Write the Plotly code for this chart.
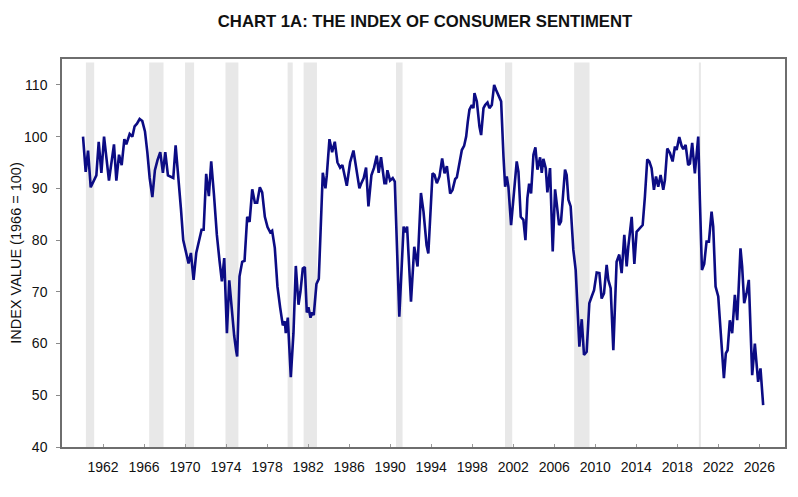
import plotly.graph_objects as go

# ---- data ----
years = [
    1960.05, 1960.31, 1960.54, 1960.80, 1961.35, 1961.58, 1961.84, 1962.10, 1962.58, 1963.07,
    1963.30, 1963.56, 1963.82, 1964.08, 1964.27, 1964.60, 1964.86, 1965.08, 1965.31, 1965.57,
    1965.83, 1966.09, 1966.32, 1966.55, 1966.81, 1967.06, 1967.32, 1967.58, 1967.84, 1968.07,
    1968.33, 1968.59, 1968.85, 1969.08, 1969.37, 1969.60, 1969.82, 1970.12, 1970.34, 1970.57,
    1970.83, 1971.09, 1971.35, 1971.61, 1971.81, 1972.06, 1972.32, 1972.55, 1972.81, 1973.10,
    1973.36, 1973.59, 1973.82, 1974.08, 1974.31, 1974.56, 1974.79, 1974.99, 1975.08, 1975.31,
    1975.57, 1975.80, 1976.06, 1976.29, 1976.55, 1976.81, 1977.03, 1977.29, 1977.52, 1977.78,
    1978.04, 1978.30, 1978.49, 1978.75, 1979.01, 1979.27, 1979.53, 1979.73, 1979.82, 1980.02,
    1980.31, 1980.57, 1980.80, 1981.06, 1981.25, 1981.48, 1981.68, 1981.87, 1982.03, 1982.23,
    1982.39, 1982.55, 1982.81, 1983.04, 1983.30, 1983.43, 1983.69, 1983.82, 1984.08, 1984.34,
    1984.60, 1984.86, 1985.12, 1985.34, 1985.77, 1986.09, 1986.42, 1986.68, 1987.00, 1987.19,
    1987.42, 1987.65, 1987.88, 1988.17, 1988.43, 1988.69, 1988.88, 1989.11, 1989.44, 1989.60,
    1989.73, 1989.99, 1990.25, 1990.45, 1990.89, 1991.31, 1991.50, 1991.65, 1992.03, 1992.35,
    1992.67, 1993.00, 1993.25, 1993.55, 1993.72, 1994.13, 1994.32, 1994.55, 1994.81, 1995.07,
    1995.30, 1995.53, 1995.85, 1996.08, 1996.34, 1996.50, 1996.76, 1996.99, 1997.21, 1997.41,
    1997.57, 1997.73, 1997.96, 1998.12, 1998.22, 1998.45, 1998.71, 1998.87, 1999.10, 1999.26,
    1999.49, 1999.68, 1999.91, 2000.14, 2000.33, 2000.56, 2000.82, 2001.05, 2001.21, 2001.37,
    2001.53, 2001.79, 2002.02, 2002.18, 2002.34, 2002.51, 2002.73, 2002.99, 2003.19, 2003.38,
    2003.55, 2003.74, 2003.97, 2004.16, 2004.36, 2004.62, 2004.78, 2004.94, 2005.17, 2005.33,
    2005.59, 2005.85, 2006.08, 2006.24, 2006.47, 2006.66, 2006.79, 2007.05, 2007.21, 2007.38,
    2007.60, 2007.86, 2008.09, 2008.29, 2008.45, 2008.68, 2008.90, 2009.16, 2009.42, 2009.65,
    2009.88, 2010.14, 2010.40, 2010.62, 2010.85, 2011.11, 2011.27, 2011.50, 2011.76, 2012.08,
    2012.34, 2012.57, 2012.83, 2013.06, 2013.22, 2013.55, 2013.81, 2014.03, 2014.36, 2014.62,
    2014.84, 2015.07, 2015.27, 2015.49, 2015.72, 2015.92, 2016.14, 2016.37, 2016.63, 2016.79,
    2017.02, 2017.28, 2017.54, 2017.77, 2017.93, 2018.19, 2018.42, 2018.58, 2018.81, 2019.06,
    2019.23, 2019.45, 2019.71, 2020.04, 2020.20, 2020.40, 2020.62, 2020.85, 2021.08, 2021.34,
    2021.50, 2021.73, 2021.99, 2022.21, 2022.54, 2022.73, 2022.90, 2023.12, 2023.35, 2023.61,
    2023.84, 2024.16, 2024.32, 2024.52, 2024.75, 2024.97, 2025.30, 2025.56, 2025.88, 2026.11,
    2026.37,
]
index_values = [
    100.0, 93.2, 97.3, 90.2, 92.5, 99.0, 93.0, 100.0, 91.5, 98.5,
    91.5, 96.5, 94.5, 99.5, 98.5, 100.5, 100.0, 102.0, 102.5, 103.4,
    103.0, 101.0, 97.0, 92.0, 88.3, 93.5, 95.5, 97.0, 93.0, 97.0,
    92.5, 92.3, 92.0, 98.3, 92.0, 86.0, 80.0, 77.5, 75.5, 77.5,
    72.3, 77.5, 80.0, 82.0, 82.0, 92.8, 88.5, 95.2, 89.0, 81.0,
    76.0, 72.0, 76.5, 62.0, 72.2, 66.0, 61.5, 58.5, 57.5, 73.0,
    75.8, 76.0, 84.5, 83.5, 89.8, 87.2, 87.2, 90.2, 89.2, 84.5,
    82.5, 81.5, 81.8, 78.5, 71.0, 67.0, 63.5, 64.3, 62.0, 65.0,
    53.5, 62.0, 75.0, 67.5, 70.0, 74.5, 74.8, 66.0, 67.0, 65.0,
    66.0, 65.5, 71.5, 72.5, 89.0, 93.0, 90.0, 92.5, 99.5, 97.0,
    99.0, 95.0, 94.0, 94.5, 90.5, 95.0, 97.3, 94.0, 90.0, 91.0,
    92.0, 94.0, 86.5, 92.5, 94.0, 96.3, 93.0, 96.0, 91.0, 91.0,
    93.5, 91.5, 92.0, 91.3, 65.2, 82.6, 81.5, 82.6, 68.1, 78.7,
    74.9, 89.1, 85.5, 79.0, 77.4, 92.9, 92.6, 91.0, 92.3, 95.8,
    92.9, 94.3, 89.0, 89.7, 91.8, 92.1, 95.2, 97.4, 98.2, 100.0,
    102.9, 105.2, 106.1, 105.5, 108.4, 106.8, 101.9, 100.3, 105.5, 106.1,
    106.6, 105.5, 106.1, 110.0, 109.0, 108.1, 106.8, 96.1, 90.3, 92.3,
    90.3, 82.9, 88.4, 92.9, 95.2, 93.2, 84.5, 83.9, 80.0, 88.1,
    90.9, 89.0, 96.5, 97.9, 93.6, 96.0, 93.0, 95.7, 93.9, 89.2,
    93.9, 77.8, 89.8, 87.1, 82.9, 83.6, 86.5, 93.6, 92.6, 87.8,
    86.5, 78.1, 74.2, 67.1, 59.4, 64.7, 57.8, 58.4, 67.8, 69.1,
    70.3, 73.7, 73.6, 68.7, 69.7, 75.2, 72.3, 70.7, 58.7, 75.8,
    77.2, 73.6, 81.0, 74.9, 78.7, 84.5, 75.4, 81.6, 82.3, 82.9,
    88.4, 95.6, 95.2, 93.9, 89.7, 92.3, 90.3, 92.6, 89.7, 91.6,
    97.7, 96.8, 95.2, 98.1, 97.4, 99.9, 98.2, 97.6, 98.4, 94.5,
    94.8, 98.8, 92.9, 100.0, 87.8, 74.2, 75.4, 79.7, 79.7, 85.5,
    82.6, 71.0, 69.1, 62.6, 53.3, 58.1, 58.7, 64.5, 62.0, 69.4,
    64.5, 78.4, 74.9, 67.8, 69.7, 72.3, 53.9, 60.0, 52.6, 55.2,
    48.1,
]

recession_start = [1960.33, 1966.50, 1970.00, 1973.94, 1980.00, 1981.56, 1990.57, 2001.20, 2007.94, 2020.10]
recession_end = [1961.14, 1967.90, 1970.88, 1975.20, 1980.50, 1982.86, 1991.21, 2001.90, 2009.44, 2020.30]

x_ticks = list(range(1962, 2027, 4))
x_tick_labels = [str(v) for v in x_ticks]
y_ticks = list(range(40, 111, 10))

title_text = "CHART 1A: THE INDEX OF CONSUMER SENTIMENT"
y_title = "INDEX VALUE (1966 = 100)"

FONT = "Liberation Sans, Arial, sans-serif"

fig = go.Figure()
fig.add_trace(go.Scatter(
    x=years, y=index_values, mode="lines",
    line=dict(color="#0c0c84", width=2.6),
    hoverinfo="skip", showlegend=False,
))

shapes = []
for s, e in zip(recession_start, recession_end):
    shapes.append(dict(type="rect", xref="x", yref="y", x0=s, x1=e, y0=40, y1=114.3,
                       fillcolor="#e8e8e8", line=dict(width=0), layer="below"))

fig.update_layout(
    width=798, height=497,
    margin=dict(l=54, r=21, t=51, b=58, autoexpand=False),
    paper_bgcolor="white", plot_bgcolor="white",
    font=dict(family=FONT, size=14, color="#111111"),
    title=dict(text="<b>" + title_text + "</b>", x=417 / 798, xref="container", xanchor="center",
               y=1 - 13 / 497, yref="container", yanchor="middle",
               font=dict(family=FONT, size=16.7, color="#111111")),
    shapes=shapes,
)
fig.update_xaxes(
    range=[1958, 2028.5], tickvals=x_ticks, ticktext=x_tick_labels,
    showgrid=False, zeroline=False, automargin=False,
    showline=True, mirror=True, linecolor="#6e6e6e", linewidth=1.5,
    ticks="inside", ticklen=3, tickcolor="#9a9a9a", tickwidth=1,
    ticklabelstandoff=6,
    tickfont=dict(family=FONT, size=14, color="#111111"),
)
fig.update_yaxes(
    range=[40, 115], tickvals=y_ticks,
    showgrid=False, zeroline=False, automargin=False,
    showline=True, mirror=True, linecolor="#6e6e6e", linewidth=1.5,
    ticks="outside", ticklen=4, tickcolor="#8a8a8a", tickwidth=1,
    ticklabelstandoff=6,
    tickfont=dict(family=FONT, size=14, color="#111111"),
    title=dict(text=y_title, standoff=13, font=dict(family=FONT, size=14.5, color="#111111")),
)

fig.write_html("out.html")
